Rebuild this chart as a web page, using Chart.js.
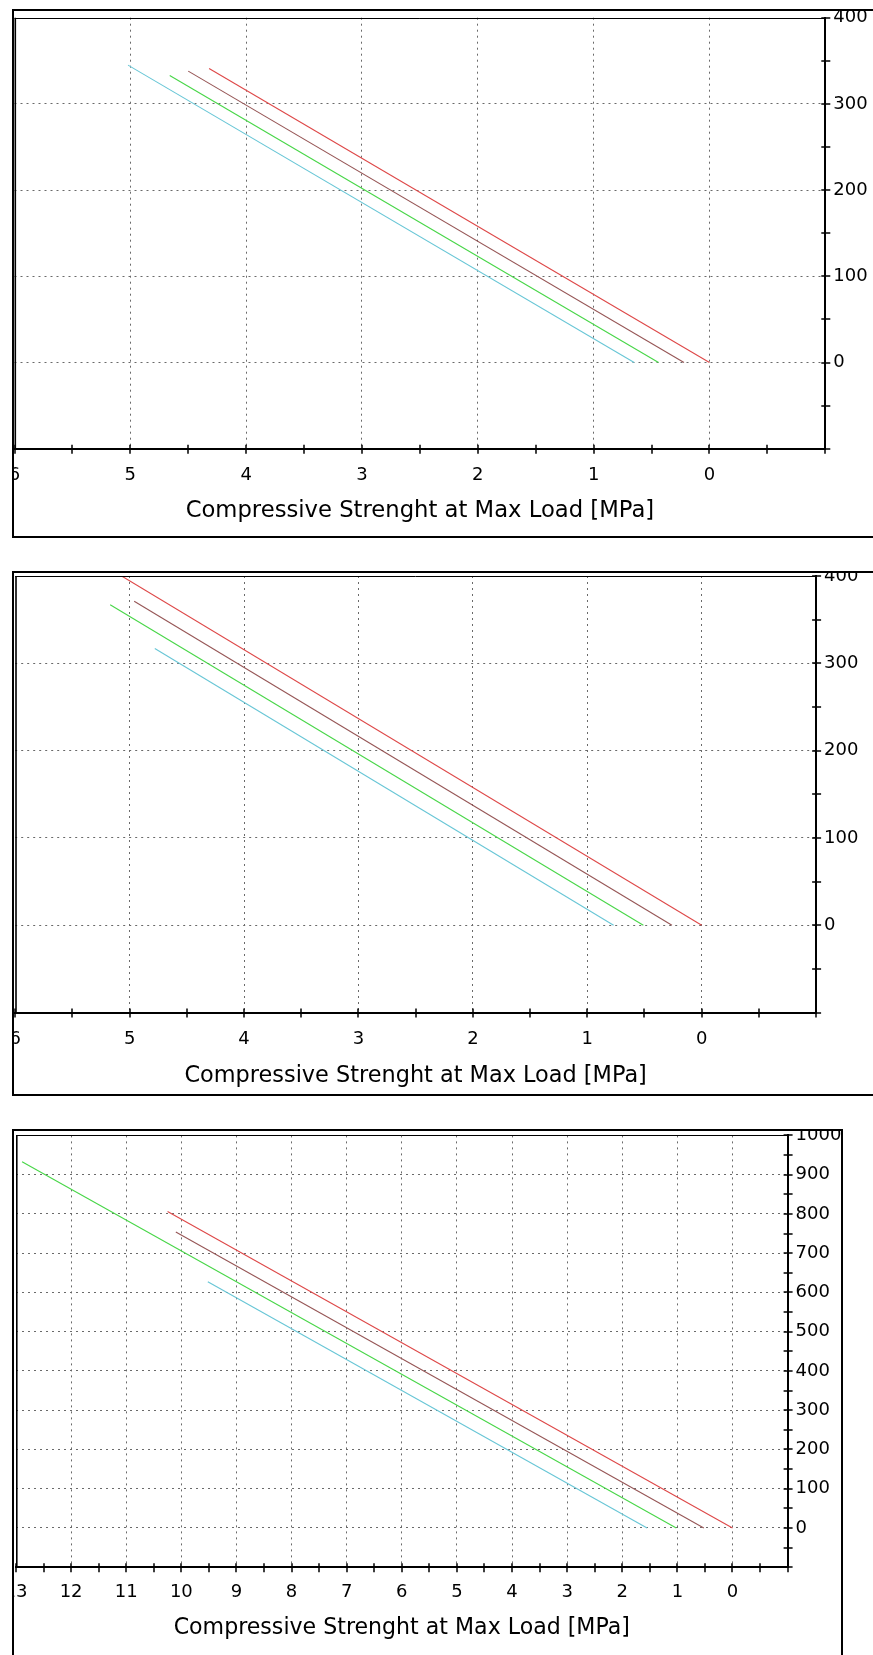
<!DOCTYPE html>
<html>
<head>
<meta charset="utf-8">
<script src="https://cdn.jsdelivr.net/npm/chart.js@4.4.0/dist/chart.umd.min.js"></script>
<style>
html, body { margin: 0; padding: 0; background: #fff; }
body { width: 873px; height: 1655px; overflow: hidden; position: relative; }
.frame { position: absolute; border: 2px solid #000; box-sizing: border-box; }
canvas { position: absolute; }
</style>
</head>
<body>
<div class="frame" style="left:12px; top:9px; width:900px; height:529px"></div>
<div class="frame" style="left:12px; top:571px; width:900px; height:525px"></div>
<div class="frame" style="left:12px; top:1129px; width:831px; height:600px"></div>
<canvas id="c1"></canvas>
<canvas id="c2"></canvas>
<canvas id="c3"></canvas>
<script>
// values: [MPa, load]
var p1Red = [[4.32, 341], [0, 0]]
var p1Brown = [[4.50, 338], [0.22, 0]]
var p1Green = [[4.66, 333], [0.44, 0]]
var p1Cyan = [[5.02, 345], [0.65, 0]]

var p2Red = [[5.07, 400], [0, 0]]
var p2Brown = [[4.96, 371], [0.26, 0]]
var p2Green = [[5.17, 367], [0.51, 0]]
var p2Cyan = [[4.78, 317], [0.77, 0]]

var p3Red = [[10.25, 806], [0, 0]]
var p3Brown = [[10.10, 754], [0.52, 0]]
var p3Green = [[12.89, 933], [1.02, 0]]
var p3Cyan = [[9.52, 627], [1.55, 0]]

// axis ranges and tick steps
var p1XRange = [-1, 6], p1YRange = [-100, 400]
var p2XRange = [-1, 6], p2YRange = [-100, 400]
var p3XRange = [-1, 13], p3YRange = [-100, 1000]
var xMinorStep = 0.5, xLabelStep = 1
var yMinorStep = 50, yLabelStep = 100

var xTitle = 'Compressive Strenght at Max Load [MPa]'

var seriesColors = ['rgb(222,72,72)', 'rgb(150,86,86)', 'rgb(72,214,72)', 'rgb(104,198,214)']

// ticks that cross the axes + top/left plot edges
var axisMarks = {
    id: 'axisMarks',
    afterDatasetsDraw(chart) {
        var ctx = chart.ctx
        var a = chart.chartArea
        var xs = chart.scales.x, ys = chart.scales.y
        ctx.save()
        ctx.strokeStyle = '#000'
        ctx.lineWidth = 1
        ctx.beginPath()
        ctx.moveTo(a.left, Math.round(a.top) + 0.5)
        ctx.lineTo(a.right, Math.round(a.top) + 0.5)
        ctx.stroke()
        ctx.lineWidth = 1.6
        ctx.beginPath()
        ctx.moveTo(a.left + 0.8, a.top)
        ctx.lineTo(a.left + 0.8, a.bottom)
        ctx.stroke()
        ctx.lineWidth = 1.5
        ctx.beginPath()
        xs.ticks.forEach(function (t, i) {
            var px = Math.round(xs.getPixelForTick(i))
            ctx.moveTo(px, a.bottom - 4)
            ctx.lineTo(px, a.bottom + 5)
        })
        ys.ticks.forEach(function (t, i) {
            var py = Math.round(ys.getPixelForTick(i))
            ctx.moveTo(a.right - 4, py)
            ctx.lineTo(a.right + 5, py)
        })
        ctx.stroke()
        ctx.restore()
    }
}

function isStep(v, step) {
    return Math.abs(v / step - Math.round(v / step)) < 1e-6
}

function buildChart(id, lay, series, xRange, yRange) {
    var cv = document.getElementById(id)
    cv.width = lay.w
    cv.height = lay.h
    cv.style.left = lay.left + 'px'
    cv.style.top = lay.top + 'px'

    return new Chart(cv, {
        type: 'scatter',
        data: {
            datasets: series.map(function (pts, i) {
                return {
                    data: pts.map(function (p) { return {x: p[0], y: p[1]} }),
                    showLine: true,
                    borderColor: seriesColors[i],
                    borderWidth: 1.1,
                    pointRadius: 0,
                    fill: false
                }
            })
        },
        options: {
            responsive: false,
            animation: false,
            devicePixelRatio: 1,
            layout: {padding: {left: lay.chartL, top: lay.chartT, right: 0, bottom: 0}},
            plugins: {legend: {display: false}, tooltip: {enabled: false}},
            scales: {
                x: {
                    type: 'linear',
                    reverse: true,
                    min: xRange[0],
                    max: xRange[1],
                    ticks: {
                        stepSize: xMinorStep,
                        autoSkip: false,
                        maxRotation: 0,
                        padding: lay.xPad,
                        color: '#000',
                        font: {family: 'DejaVu Sans', size: 18},
                        callback: function (v) { return (isStep(v, xLabelStep) && v >= 0) ? String(Math.round(v)) : '' }
                    },
                    grid: {
                        drawTicks: false,
                        lineWidth: 1,
                        color: function (c) {
                            var v = c.tick ? c.tick.value : null
                            return (v !== null && isStep(v, xLabelStep) && v > xRange[0] && v < xRange[1]) ? '#6a6a6a' : 'rgba(0,0,0,0)'
                        }
                    },
                    border: {color: '#000', width: 2, dash: [2, 4]},
                    title: {
                        display: true,
                        text: xTitle,
                        color: '#000',
                        font: {family: 'DejaVu Sans', size: lay.titleSize},
                        padding: {top: 0, bottom: lay.titlePad}
                    },
                    afterFit: function (s) {
                        s.height = lay.h - lay.chartB
                        s.paddingLeft = 0
                        s.paddingRight = 0
                    }
                },
                y: {
                    type: 'linear',
                    position: 'right',
                    min: yRange[0],
                    max: yRange[1],
                    ticks: {
                        stepSize: yMinorStep,
                        autoSkip: false,
                        padding: 8,
                        color: '#000',
                        font: {family: 'DejaVu Sans', size: 18},
                        callback: function (v) { return (isStep(v, yLabelStep) && v >= 0) ? String(v) : '' }
                    },
                    grid: {
                        drawTicks: false,
                        lineWidth: 1,
                        color: function (c) {
                            var v = c.tick ? c.tick.value : null
                            return (v !== null && isStep(v, yLabelStep) && v > yRange[0] && v < yRange[1]) ? '#6a6a6a' : 'rgba(0,0,0,0)'
                        }
                    },
                    border: {color: '#000', width: 2, dash: [2, 4]},
                    afterFit: function (s) {
                        s.width = lay.w - lay.chartR
                        s.paddingTop = 0
                        s.paddingBottom = 0
                    }
                }
            }
        },
        plugins: [axisMarks]
    })
}

buildChart('c1',
    {left: 14, top: 11, w: 859, h: 525, chartL: 0.5, chartT: 6.7, chartR: 811.3, chartB: 437.7, xPad: 15.5, titleSize: 22.7, titlePad: 10.9},
    [p1Red, p1Brown, p1Green, p1Cyan], p1XRange, p1YRange)

buildChart('c2',
    {left: 14, top: 573, w: 859, h: 521, chartL: 1.2, chartT: 3, chartR: 802.1, chartB: 439.5, xPad: 16.3, titleSize: 22.4, titlePad: 4.6},
    [p2Red, p2Brown, p2Green, p2Cyan], p2XRange, p2YRange)

buildChart('c3',
    {left: 14, top: 1131, w: 827, h: 524, chartL: 2, chartT: 4.4, chartR: 773.6, chartB: 436.2, xPad: 14.6, titleSize: 22.1, titlePad: 13.3},
    [p3Red, p3Brown, p3Green, p3Cyan], p3XRange, p3YRange)
</script>
</body>
</html>
